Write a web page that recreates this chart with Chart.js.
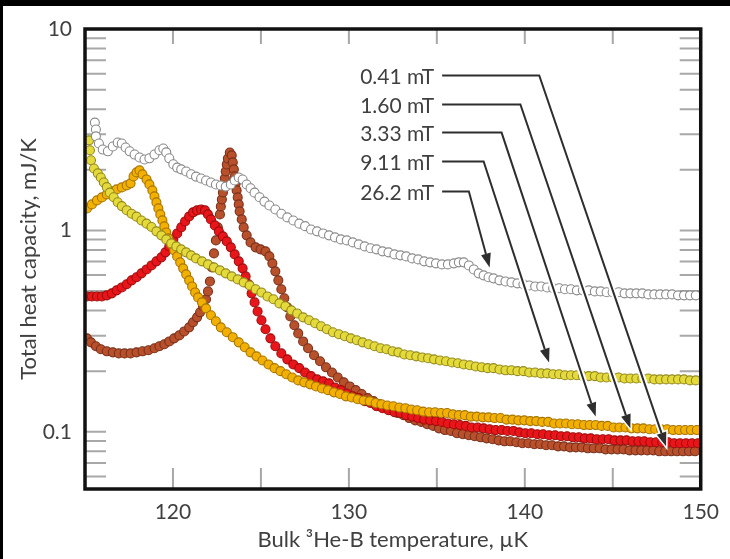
<!DOCTYPE html>
<html>
<head>
<meta charset="utf-8">
<script src="https://cdn.jsdelivr.net/npm/chart.js@4.4.1/dist/chart.umd.min.js"></script>
<style>
  html, body { margin: 0; padding: 0; background: #000; }
  #wrap { width: 730px; height: 559px; }
</style>
</head>
<body>
<div id="wrap"><canvas id="heat" width="730" height="559"></canvas></div>
<script>
// temperature (uK) and total heat capacity (mJ/K), one pair of arrays per field
const t262 = [115.56,115.62,115.62,115.79,116.01,116.30,116.58,116.86,117.09,117.31,117.54,117.82,118.10,118.38,118.66,118.95,119.23,119.45,119.62,119.79,120.02,120.24,120.47,120.75,121.03,121.31,121.60,121.88,122.16,122.44,122.72,123.00,123.29,123.51,123.74,123.96,124.19,124.41,124.64,124.92,125.20,125.48,125.82,126.16,126.50,126.84,127.18,127.51,127.85,128.19,128.53,128.87,129.21,129.54,129.88,130.22,130.56,130.90,131.23,131.57,131.91,132.25,132.59,132.93,133.26,133.60,133.94,134.28,134.62,134.95,135.29,135.63,135.97,136.25,136.53,136.82,137.10,137.38,137.66,137.94,138.22,138.56,138.90,139.24,139.58,139.92,140.25,140.59,140.93,141.27,141.61,141.95,142.28,142.62,142.96,143.30,143.64,143.98,144.31,144.65,144.99,145.33,145.67,146.00,146.34,146.68,147.02,147.36,147.69,148.03,148.37,148.71,149.05,149.39,149.72]
const c262 = [3.43,3.17,2.93,2.70,2.52,2.47,2.61,2.73,2.70,2.58,2.47,2.38,2.30,2.25,2.28,2.38,2.50,2.55,2.44,2.28,2.13,2.05,2.01,1.96,1.90,1.85,1.81,1.77,1.73,1.69,1.67,1.65,1.69,1.77,1.83,1.79,1.69,1.62,1.54,1.46,1.39,1.33,1.27,1.21,1.16,1.12,1.08,1.05,1.01,0.989,0.966,0.945,0.923,0.902,0.892,0.872,0.852,0.833,0.815,0.805,0.787,0.778,0.760,0.752,0.743,0.726,0.718,0.702,0.694,0.686,0.678,0.678,0.686,0.694,0.694,0.670,0.640,0.612,0.598,0.585,0.578,0.565,0.558,0.552,0.546,0.540,0.533,0.527,0.527,0.521,0.516,0.516,0.510,0.510,0.504,0.504,0.504,0.498,0.498,0.493,0.493,0.493,0.487,0.487,0.487,0.487,0.481,0.481,0.481,0.481,0.481,0.476,0.476,0.476,0.476]

const t911 = [115.23,115.28,115.34,115.51,115.73,115.90,116.07,116.24,116.41,116.63,116.86,117.09,117.37,117.65,117.93,118.21,118.50,118.78,119.06,119.34,119.62,119.90,120.19,120.47,120.75,121.03,121.31,121.65,121.99,122.33,122.67,123.00,123.34,123.68,124.02,124.36,124.70,125.03,125.37,125.71,126.05,126.39,126.73,127.06,127.40,127.74,128.08,128.42,128.75,129.09,129.43,129.77,130.11,130.45,130.78,131.12,131.46,131.80,132.14,132.48,132.81,133.15,133.49,133.83,134.17,134.50,134.84,135.18,135.52,135.86,136.20,136.53,136.87,137.21,137.55,137.89,138.22,138.56,138.90,139.24,139.58,139.92,140.25,140.59,140.93,141.27,141.61,141.95,142.28,142.62,142.96,143.30,143.64,143.98,144.31,144.65,144.99,145.33,145.67,146.00,146.34,146.68,147.02,147.36,147.69,148.03,148.37,148.71,149.05,149.39,149.72]
const c911 = [2.80,2.50,2.23,2.03,1.92,1.83,1.73,1.64,1.54,1.46,1.38,1.32,1.26,1.21,1.17,1.12,1.08,1.04,0.989,0.945,0.902,0.862,0.833,0.805,0.778,0.752,0.726,0.702,0.678,0.655,0.633,0.612,0.591,0.571,0.552,0.533,0.510,0.492,0.470,0.455,0.434,0.420,0.401,0.387,0.370,0.358,0.346,0.334,0.323,0.312,0.305,0.298,0.291,0.285,0.278,0.272,0.266,0.260,0.257,0.251,0.248,0.242,0.240,0.237,0.234,0.232,0.229,0.226,0.224,0.221,0.219,0.216,0.214,0.211,0.209,0.207,0.207,0.204,0.202,0.202,0.200,0.200,0.197,0.197,0.195,0.195,0.193,0.193,0.191,0.191,0.191,0.189,0.189,0.189,0.186,0.186,0.186,0.186,0.184,0.184,0.184,0.184,0.184,0.182,0.182,0.182,0.182,0.182,0.182,0.180,0.180]

const t333 = [115.11,115.39,115.68,115.96,116.24,116.52,116.80,117.09,117.37,117.59,117.76,117.93,118.10,118.27,118.50,118.66,118.83,118.95,119.06,119.17,119.28,119.40,119.51,119.62,119.74,119.90,120.07,120.24,120.41,120.58,120.75,120.92,121.09,121.26,121.43,121.65,121.88,122.16,122.44,122.72,123.06,123.40,123.74,124.08,124.41,124.75,125.09,125.43,125.77,126.11,126.44,126.78,127.12,127.46,127.80,128.13,128.47,128.81,129.15,129.49,129.83,130.16,130.50,130.84,131.18,131.52,131.85,132.19,132.53,132.87,133.21,133.55,133.88,134.22,134.56,134.90,135.24,135.58,135.91,136.25,136.59,136.93,137.27,137.61,137.94,138.28,138.62,138.96,139.30,139.63,139.97,140.31,140.65,140.99,141.33,141.66,142.00,142.34,142.68,143.02,143.36,143.69,144.03,144.37,144.71,145.05,145.38,145.72,146.06,146.40,146.74,147.08,147.41,147.75,148.09,148.43,148.77,149.11,149.44,149.78]
const c333 = [1.286,1.346,1.409,1.458,1.509,1.562,1.598,1.635,1.673,1.712,1.854,1.941,1.986,1.897,1.791,1.692,1.580,1.475,1.377,1.286,1.201,1.121,1.047,0.977,0.913,0.852,0.796,0.743,0.694,0.648,0.605,0.565,0.527,0.492,0.465,0.439,0.410,0.379,0.354,0.330,0.312,0.295,0.278,0.263,0.248,0.237,0.226,0.216,0.207,0.200,0.193,0.186,0.180,0.176,0.172,0.168,0.164,0.161,0.157,0.154,0.150,0.148,0.145,0.143,0.142,0.139,0.137,0.135,0.134,0.132,0.131,0.129,0.128,0.126,0.125,0.125,0.124,0.124,0.122,0.121,0.121,0.119,0.119,0.118,0.118,0.117,0.117,0.115,0.115,0.114,0.114,0.113,0.113,0.112,0.112,0.110,0.110,0.110,0.109,0.109,0.108,0.108,0.108,0.107,0.107,0.105,0.105,0.105,0.104,0.104,0.104,0.103,0.103,0.103,0.103,0.102,0.102,0.102,0.102,0.102]

const t160 = [115.11,115.39,115.68,115.96,116.24,116.52,116.80,117.09,117.37,117.65,117.93,118.21,118.50,118.78,119.06,119.34,119.57,119.79,120.02,120.24,120.47,120.69,120.92,121.14,121.37,121.60,121.82,121.99,122.16,122.38,122.61,122.84,123.06,123.29,123.51,123.74,123.96,124.13,124.30,124.47,124.64,124.81,125.03,125.26,125.54,125.82,126.16,126.50,126.84,127.18,127.51,127.85,128.19,128.53,128.87,129.21,129.54,129.88,130.22,130.56,130.90,131.23,131.57,131.91,132.25,132.59,132.93,133.26,133.60,133.94,134.28,134.62,134.95,135.29,135.63,135.97,136.31,136.65,136.98,137.32,137.66,138.00,138.34,138.68,139.01,139.35,139.69,140.03,140.37,140.71,141.04,141.38,141.72,142.06,142.40,142.74,143.07,143.41,143.75,144.09,144.43,144.77,145.10,145.44,145.78,146.12,146.46,146.79,147.13,147.47,147.81,148.15,148.49,148.82,149.16,149.50,149.84]
const c160 = [0.470,0.470,0.470,0.470,0.476,0.487,0.504,0.521,0.540,0.565,0.585,0.612,0.640,0.670,0.702,0.735,0.778,0.833,0.902,0.966,1.035,1.108,1.173,1.229,1.257,1.271,1.257,1.201,1.134,1.059,0.989,0.934,0.882,0.824,0.760,0.702,0.648,0.591,0.540,0.487,0.439,0.396,0.358,0.323,0.291,0.266,0.245,0.229,0.216,0.207,0.197,0.189,0.182,0.178,0.174,0.166,0.161,0.155,0.150,0.147,0.142,0.139,0.134,0.131,0.128,0.125,0.124,0.121,0.119,0.117,0.115,0.114,0.113,0.112,0.110,0.109,0.108,0.107,0.105,0.105,0.104,0.103,0.102,0.102,0.101,0.101,0.0994,0.0983,0.0983,0.0972,0.0972,0.0961,0.0961,0.0950,0.0950,0.0939,0.0939,0.0928,0.0928,0.0918,0.0918,0.0918,0.0907,0.0907,0.0907,0.0897,0.0897,0.0897,0.0887,0.0887,0.0887,0.0887,0.0877,0.0877,0.0877,0.0877,0.0877]

const t041 = [115.11,115.34,115.62,115.90,116.24,116.58,116.92,117.25,117.59,117.93,118.27,118.61,118.95,119.23,119.51,119.79,120.07,120.36,120.64,120.92,121.14,121.37,121.54,121.71,121.88,121.99,122.10,122.22,122.33,122.44,122.55,122.67,122.72,122.78,122.84,122.89,122.95,123.00,123.06,123.12,123.23,123.34,123.40,123.46,123.51,123.57,123.62,123.68,123.74,123.79,123.91,124.02,124.19,124.41,124.70,124.98,125.26,125.48,125.65,125.82,125.99,126.16,126.33,126.50,126.67,126.90,127.12,127.40,127.68,128.02,128.36,128.70,129.04,129.37,129.71,130.05,130.39,130.73,131.07,131.40,131.74,132.08,132.42,132.76,133.10,133.43,133.77,134.11,134.45,134.79,135.12,135.46,135.80,136.14,136.48,136.82,137.15,137.49,137.83,138.17,138.51,138.85,139.18,139.52,139.86,140.20,140.54,140.87,141.21,141.55,141.89,142.23,142.57,142.90,143.24,143.58,143.92,144.26,144.59,144.93,145.27,145.61,145.95,146.29,146.62,146.96,147.30,147.64,147.98,148.32,148.65,148.99,149.33,149.67]
const c041 = [0.291,0.278,0.266,0.257,0.251,0.248,0.245,0.245,0.245,0.248,0.251,0.254,0.260,0.266,0.272,0.281,0.291,0.301,0.315,0.330,0.350,0.370,0.392,0.420,0.455,0.498,0.558,0.655,0.769,0.892,1.035,1.201,1.316,1.425,1.544,1.673,1.812,1.963,2.126,2.276,2.438,2.357,2.176,2.009,1.854,1.712,1.580,1.458,1.346,1.243,1.134,1.035,0.945,0.872,0.824,0.805,0.787,0.743,0.686,0.626,0.565,0.510,0.460,0.415,0.374,0.338,0.308,0.281,0.260,0.240,0.224,0.209,0.197,0.186,0.176,0.168,0.161,0.154,0.147,0.142,0.137,0.132,0.128,0.124,0.121,0.117,0.114,0.112,0.109,0.107,0.104,0.102,0.101,0.0983,0.0972,0.0961,0.0950,0.0939,0.0928,0.0918,0.0907,0.0897,0.0897,0.0887,0.0877,0.0877,0.0867,0.0867,0.0857,0.0857,0.0847,0.0847,0.0837,0.0837,0.0837,0.0828,0.0828,0.0828,0.0818,0.0818,0.0818,0.0818,0.0809,0.0809,0.0809,0.0809,0.0809,0.0800,0.0800,0.0800,0.0800,0.0800,0.0800,0.0800]

// callouts, listed top to bottom
const fieldLabels = ['0.41 mT', '1.60 mT', '3.33 mT', '9.11 mT', '26.2 mT']
const labelT = 135.3
const labelC = [5.88, 4.22, 3.06, 2.20, 1.56]
const elbowT = [140.82, 139.75, 138.68, 137.66, 136.82]
const tipT = [148.03, 146.00, 144.03, 141.38, 138.00]
const tipC = [0.0847, 0.104, 0.119, 0.221, 0.655]

// axis ticks
const yTickValues = [0.06,0.07,0.08,0.09,0.1,0.2,0.3,0.4,0.5,0.6,0.7,0.8,0.9,1,2,3,4,5,6,7,8,9,10]
const yLabelled = [0.1, 1, 10]
const xTickValues = [120, 125, 130, 135, 140, 145]

const fontFamily = 'Lato, "Open Sans", sans-serif'
const ink = '#404040'

function series(label, temps, caps, fill, edge) {
    return {
        label: label,
        data: temps.map((t, i) => ({ x: t, y: caps[i] })),
        showLine: false,
        pointRadius: 4.5,
        pointHoverRadius: 4.5,
        pointBackgroundColor: fill,
        pointBorderColor: edge,
        pointBorderWidth: 1.1
    }
}

// black edge around the white sheet
const paper = {
    id: 'paper',
    beforeDraw(chart) {
        const ctx = chart.ctx
        ctx.save()
        ctx.fillStyle = '#000'
        ctx.fillRect(0, 0, chart.width, chart.height)
        ctx.fillStyle = '#fff'
        ctx.fillRect(3, 6, chart.width - 3, chart.height - 6)
        ctx.restore()
    }
}

// grey tick marks pointing into the plot
const innerTicks = {
    id: 'innerTicks',
    beforeDatasetsDraw(chart) {
        const { ctx, chartArea: a, scales } = chart
        ctx.save()
        ctx.strokeStyle = '#a8a8a8'
        ctx.lineWidth = 2
        ctx.beginPath()
        xTickValues.forEach(v => {
            const x = scales.x.getPixelForValue(v)
            ctx.moveTo(x, a.bottom); ctx.lineTo(x, a.bottom - 21)
            ctx.moveTo(x, a.top); ctx.lineTo(x, a.top + 15)
        })
        yTickValues.forEach(v => {
            if (v === 10) return
            const y = scales.y.getPixelForValue(v)
            ctx.moveTo(a.left, y); ctx.lineTo(a.left + 21, y)
            ctx.moveTo(a.right, y); ctx.lineTo(a.right - 21, y)
        })
        ctx.stroke()
        ctx.restore()
    }
}

// frame plus the field callouts with arrows
const frameAndCallouts = {
    id: 'frameAndCallouts',
    afterDatasetsDraw(chart) {
        const { ctx, chartArea: a, scales } = chart
        const xs = scales.x, ys = scales.y
        ctx.save()

        fieldLabels.forEach((name, i) => {
            const x0 = xs.getPixelForValue(labelT)
            const y0 = ys.getPixelForValue(labelC[i])
            const xe = xs.getPixelForValue(elbowT[i])
            const xt = xs.getPixelForValue(tipT[i])
            const yt = ys.getPixelForValue(tipC[i])
            const ang = Math.atan2(yt - y0, xt - xe)
            const head = 14, half = 5
            const bx = xt - head * Math.cos(ang), by = yt - head * Math.sin(ang)

            const headPath = () => {
                ctx.beginPath()
                ctx.moveTo(xt, yt)
                ctx.lineTo(bx + half * Math.sin(ang), by - half * Math.cos(ang))
                ctx.lineTo(bx - half * Math.sin(ang), by + half * Math.cos(ang))
                ctx.closePath()
            }

            // white casing first
            ctx.strokeStyle = '#fff'
            ctx.lineJoin = 'miter'
            ctx.lineWidth = 6
            ctx.beginPath()
            ctx.moveTo(x0, y0); ctx.lineTo(xe, y0); ctx.lineTo(bx, by)
            ctx.stroke()
            headPath()
            ctx.lineWidth = 3
            ctx.stroke()

            ctx.strokeStyle = '#2e2e2e'
            ctx.lineWidth = 2
            ctx.beginPath()
            ctx.moveTo(x0, y0); ctx.lineTo(xe, y0); ctx.lineTo(bx, by)
            ctx.stroke()
            headPath()
            ctx.fillStyle = '#2e2e2e'
            ctx.fill()

            ctx.fillStyle = ink
            ctx.font = '21px ' + fontFamily
            ctx.textAlign = 'right'
            ctx.textBaseline = 'middle'
            ctx.fillText(name, x0 - 8, y0 + 2)
        })

        ctx.strokeStyle = '#111'
        ctx.lineWidth = 3.5
        ctx.strokeRect(a.left, a.top, a.right - a.left, a.bottom - a.top)
        ctx.restore()
    }
}

new Chart(document.getElementById('heat'), {
    type: 'scatter',
    data: {
        datasets: [
            series('26.2 mT', t262, c262, '#ffffff', '#8a8a8a'),
            series('9.11 mT', t911, c911, '#e4da3c', '#948a1e'),
            series('3.33 mT', t333, c333, '#f2b000', '#a87400'),
            series('1.60 mT', t160, c160, '#e8161a', '#a00c0c'),
            series('0.41 mT', t041, c041, '#b8502c', '#7a301a')
        ]
    },
    options: {
        responsive: false,
        animation: false,
        layout: { padding: { top: 29, right: 24, left: 0, bottom: 0 } },
        plugins: { legend: { display: false }, tooltip: { enabled: false } },
        scales: {
            x: {
                type: 'linear',
                min: 115,
                max: 150,
                afterFit: s => { s.height = 70 },
                grid: { display: false, drawTicks: false },
                border: { display: false },
                ticks: {
                    stepSize: 5,
                    autoSkip: false,
                    maxRotation: 0,
                    padding: 11,
                    color: ink,
                    font: { family: fontFamily, size: 21 },
                    callback: v => (v % 10 === 0 ? String(v) : '')
                },
                title: {
                    display: true,
                    text: 'Bulk \u00b3He-B temperature, \u00b5K',
                    color: ink,
                    font: { family: fontFamily, size: 22 },
                    padding: { top: 0, bottom: 6 }
                }
            },
            y: {
                type: 'logarithmic',
                min: 0.052,
                max: 10,
                afterFit: s => { s.width = 85 },
                afterBuildTicks: s => { s.ticks = yTickValues.map(v => ({ value: v })) },
                grid: { display: false, drawTicks: false },
                border: { display: false },
                ticks: {
                    autoSkip: false,
                    padding: 13,
                    color: ink,
                    font: { family: fontFamily, size: 21 },
                    callback: v => (yLabelled.includes(v) ? String(v) : '')
                },
                title: {
                    display: true,
                    text: 'Total heat capacity, mJ/K',
                    color: ink,
                    font: { family: fontFamily, size: 22 },
                    padding: { top: 16, bottom: 0 }
                }
            }
        }
    },
    plugins: [paper, innerTicks, frameAndCallouts]
})
</script>
</body>
</html>
